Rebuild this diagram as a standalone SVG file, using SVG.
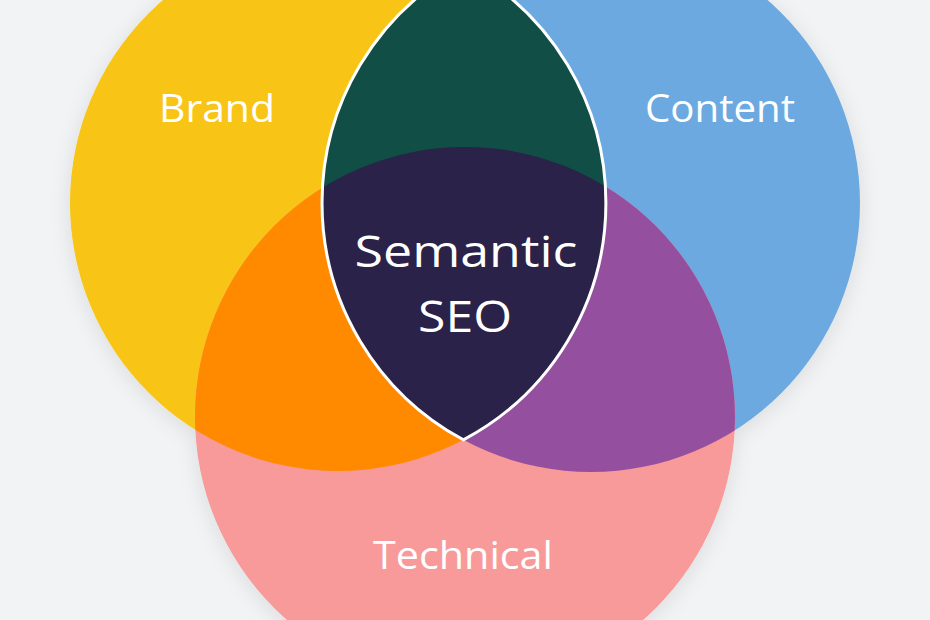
<svg xmlns="http://www.w3.org/2000/svg" width="930" height="620" viewBox="0 0 930 620">
  <style>
    .lbl { font-family: "Open Sans", "Liberation Sans", sans-serif; fill: #ffffff; text-anchor: middle; }
    .outer { font-size: 39px; }
    .inner { font-size: 43px; }
  </style>
  <defs>
    <clipPath id="cpBrand"><circle cx="338" cy="203" r="268"/></clipPath>
    <clipPath id="cpContent"><circle cx="591" cy="203" r="269"/></clipPath>
    <clipPath id="cpLens"><path d="M463.4,-33.8 A268,268 0 0 1 463.4,439.8 A269,269 0 0 1 463.4,-33.8 Z"/></clipPath>
    <filter id="shadow" x="-20%" y="-20%" width="140%" height="140%">
      <feDropShadow dx="0" dy="4" stdDeviation="10" flood-color="#000000" flood-opacity="0.10"/>
    </filter>
  </defs>
  <rect width="930" height="620" fill="#F2F3F5"/>

  <g filter="url(#shadow)">
    <g id="brand">
      <circle cx="338" cy="203" r="268" fill="#F8C513"/>
    </g>
    <g id="content">
      <circle cx="591" cy="203" r="269" fill="#6DA9E1"/>
    </g>
    <g id="technical">
      <circle cx="465" cy="417" r="270" fill="#F79A99"/>
    </g>
  </g>

  <g id="brand-technical">
    <circle cx="465" cy="417" r="270" fill="#FF8A00" clip-path="url(#cpBrand)"/>
  </g>
  <g id="content-technical">
    <circle cx="465" cy="417" r="270" fill="#954F9F" clip-path="url(#cpContent)"/>
  </g>
  <g id="brand-content">
    <path d="M463.4,-33.8 A268,268 0 0 1 463.4,439.8 A269,269 0 0 1 463.4,-33.8 Z" fill="#114E45"/>
  </g>
  <g id="semantic-seo">
    <circle cx="465" cy="417" r="270" fill="#2A2248" clip-path="url(#cpLens)"/>
    <path d="M463.4,-33.8 A268,268 0 0 1 463.4,439.8 A269,269 0 0 1 463.4,-33.8 Z" fill="none" stroke="#ffffff" stroke-width="3" stroke-linejoin="miter"/>
  </g>

  <g id="labels">
    <text class="lbl outer" x="217" y="122" textLength="116" lengthAdjust="spacingAndGlyphs">Brand</text>
    <text class="lbl outer" x="720" y="122" textLength="150" lengthAdjust="spacingAndGlyphs">Content</text>
    <text class="lbl outer" x="463" y="569" textLength="180" lengthAdjust="spacingAndGlyphs">Technical</text>
    <text class="lbl inner" x="466" y="267" textLength="223" lengthAdjust="spacingAndGlyphs">Semantic</text>
    <text class="lbl inner" x="465" y="332" textLength="94" lengthAdjust="spacingAndGlyphs">SEO</text>
  </g>
</svg>
